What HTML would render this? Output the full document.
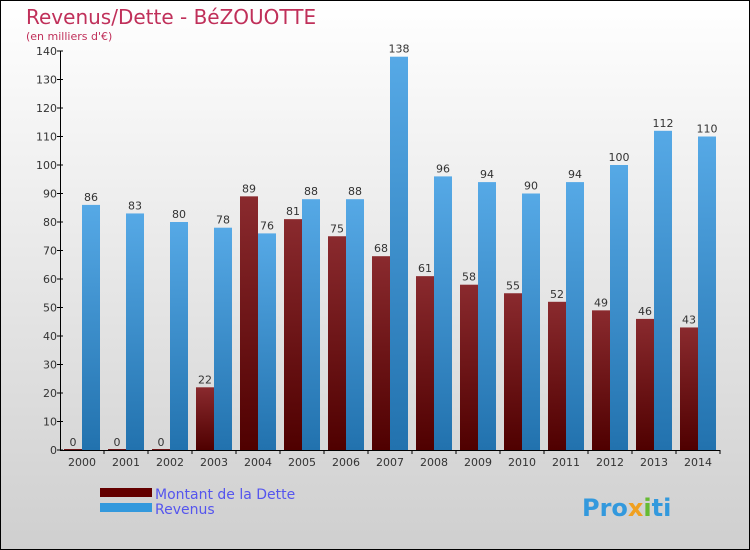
<!DOCTYPE html>
<html><head><meta charset="utf-8"><style>
html,body{margin:0;padding:0}
body{width:750px;height:550px;overflow:hidden;font-family:"DejaVu Sans","Liberation Sans",sans-serif}
#wrap{position:absolute;left:0;top:0;width:748px;height:548px;border:1px solid #000;background:linear-gradient(#ffffff,#cfcfcf)}
</style></head><body>
<div id="wrap">
<svg id="chart" width="750" height="550" style="position:absolute;left:-1px;top:-1px">
<defs>
<linearGradient id="gd" x1="0" y1="0" x2="0" y2="1"><stop offset="0" stop-color="#8a2a2e"/><stop offset="1" stop-color="#4f0000"/></linearGradient>
<linearGradient id="gr" x1="0" y1="0" x2="0" y2="1"><stop offset="0" stop-color="#56a9e6"/><stop offset="1" stop-color="#2272ae"/></linearGradient>
</defs>
<text x="26" y="24" font-size="20" fill="#c0305a">Revenus/Dette - BéZOUOTTE</text>
<text x="26" y="40" font-size="11" fill="#c0305a">(en milliers d'€)</text>
<g id="bars"></g>
<g id="axes"></g>
<rect x="100" y="488" width="52" height="9" fill="#640000"/>
<rect x="100" y="503" width="52" height="9" fill="#3399dd"/>
<text x="155" y="499" font-size="14" fill="#5555ee">Montant de la Dette</text>
<text x="155" y="514" font-size="14" fill="#5555ee">Revenus</text>
<text x="582" y="516" font-size="24" font-weight="bold" fill="#3399dd">Pro<tspan fill="#f0a020">x</tspan><tspan fill="#66bb33">i</tspan>ti</text>
</svg>
</div>
<script>
const categories=["2000","2001","2002","2003","2004","2005","2006","2007","2008","2009","2010","2011","2012","2013","2014"];
const detteValues=[0,0,0,22,89,81,75,68,61,58,55,52,49,46,43];
const revenusValues=[86,83,80,78,76,88,88,138,96,94,90,94,100,112,110];
const yTicks=[0,10,20,30,40,50,60,70,80,90,100,110,120,130,140];
const NS="http://www.w3.org/2000/svg";
const x0=60,x1=720,y0=450,yTop=51,yMax=140;
const bw=(x1-x0)/categories.length;
function y(v){return y0-(v/yMax)*(y0-yTop);}
function gx(i){return x0+i*bw;}
function mk(t,a,p){const e=document.createElementNS(NS,t);for(const k in a)e.setAttribute(k,a[k]);p.appendChild(e);return e;}
const bars=document.getElementById('bars'),axes=document.getElementById('axes');
categories.forEach((c,i)=>{
  const cx=gx(i)+bw/2;
  const d=detteValues[i],r=revenusValues[i];
  const bd=mk('rect',{x:cx-18,y:y(d)-(d===0?1:0),width:18,height:Math.max(y0-y(d),1),fill:'url(#gd)'},bars);
  
  
  const br=mk('rect',{x:cx,y:y(r),width:18,height:y0-y(r),fill:'url(#gr)'},bars);
  
  
  const ld=mk('text',{x:cx-9,y:y(d)-4,'font-size':11,'text-anchor':'middle',fill:'#333'},bars);ld.textContent=d;
  
  
  const lr=mk('text',{x:cx+9,y:y(r)-4,'font-size':11,'text-anchor':'middle',fill:'#333'},bars);lr.textContent=r;
  
  
  const xl=mk('text',{x:cx,y:466,'font-size':11,'text-anchor':'middle',fill:'#333'},axes);xl.textContent=c;
  
  
  mk('line',{x1:gx(i+1),x2:gx(i+1),y1:y0,y2:y0+4,stroke:'#000'},axes);
});
mk('line',{x1:x0,x2:x1,y1:y0+0.5,y2:y0+0.5,stroke:'#000'},axes);
mk('line',{x1:x0+0.5,x2:x0+0.5,y1:yTop,y2:y0,stroke:'#000'},axes);
yTicks.forEach(v=>{
  mk('line',{x1:x0-3,x2:x0+3,y1:y(v),y2:y(v),stroke:'#000'},axes);
  const t=mk('text',{x:x0-3,y:y(v)+4,'font-size':11,'text-anchor':'end',fill:'#333'},axes);t.textContent=v;
  
  
});
</script>
</body></html>
